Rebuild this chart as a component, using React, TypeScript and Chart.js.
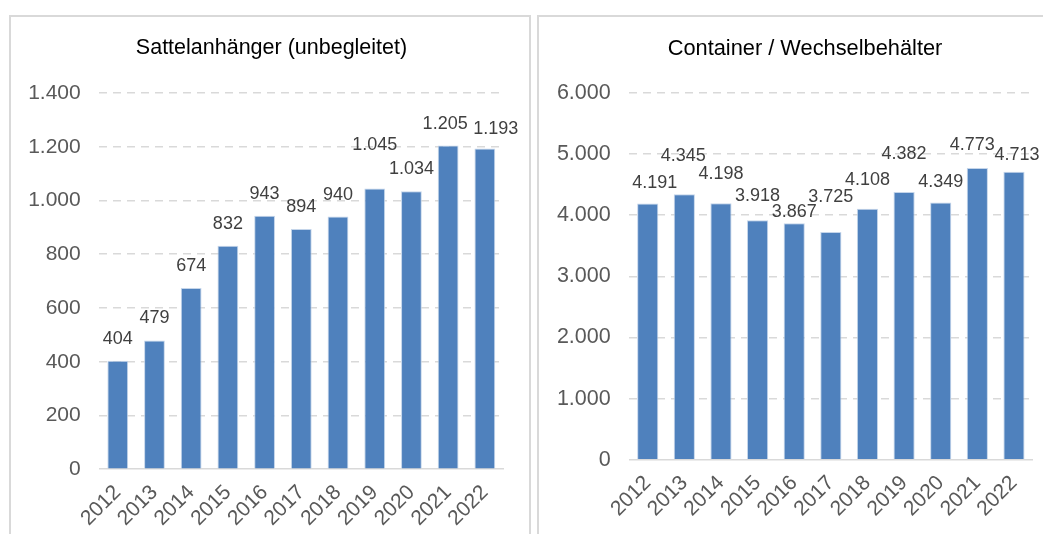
import React, { useEffect, useRef } from 'react';
import { Chart, registerables } from 'chart.js';

Chart.register(...registerables);

// ---- data ----
const years = ['2012', '2013', '2014', '2015', '2016', '2017', '2018', '2019', '2020', '2021', '2022'];

const trailerTitle = 'Sattelanhänger (unbegleitet)';
const trailerValues = [404, 479, 674, 832, 943, 894, 940, 1045, 1034, 1205, 1193];
const trailerTicks = [0, 200, 400, 600, 800, 1000, 1200, 1400];

const containerTitle = 'Container / Wechselbehälter';
// bar heights as drawn in the reference (the 2020 bar is drawn lower than its label)
const containerBarValues = [4191, 4345, 4198, 3918, 3867, 3725, 4108, 4382, 4207, 4773, 4713];
// values printed above the bars
const containerLabelValues = [4191, 4345, 4198, 3918, 3867, 3725, 4108, 4382, 4349, 4773, 4713];
const containerTicks = [0, 1000, 2000, 3000, 4000, 5000, 6000];

// ---- style ----
const FONT = "'Liberation Sans', Arial, Helvetica, sans-serif";
const BAR_COLOR = '#4F81BD';
const GRID_COLOR = '#D9D9D9';
const TICK_COLOR = '#595959';
const LABEL_COLOR = '#404040';

const fmt = (n: number) => String(n).replace(/\B(?=(\d{3})+(?!\d))/g, '.');

const barLabelPlugin = {
  id: 'barLabels',
  afterDatasetsDraw(chart: any, _args: any, opts: any) {
    const { ctx } = chart;
    const meta = chart.getDatasetMeta(0);
    ctx.save();
    ctx.font = `${opts.size}px ${FONT}`;
    ctx.fillStyle = opts.color;
    ctx.textAlign = 'center';
    ctx.textBaseline = 'middle';
    meta.data.forEach((bar: any, i: number) => {
      ctx.fillText(fmt(opts.values[i]), bar.x + (opts.dx[i] || 0), bar.y - (opts.dy[i] || 0));
    });
    ctx.restore();
  },
};

const chartTitlePlugin = {
  id: 'chartTitle',
  afterDraw(chart: any, _args: any, opts: any) {
    const { ctx } = chart;
    ctx.save();
    ctx.font = `${opts.size}px ${FONT}`;
    ctx.fillStyle = opts.color;
    ctx.textAlign = 'center';
    ctx.textBaseline = 'middle';
    ctx.fillText(opts.text, opts.x, opts.y);
    ctx.restore();
  },
};

type ChartSpec = {
  title: string;
  titleSize: number;
  titleX: number;
  barValues: number[];
  labelValues: number[];
  ticks: number[];
  tickSize: number;
  barPct: number;
  yWidth: number;
  yPad: number;
  xHeight: number;
  padRight: number;
  labelDy: number[];
  labelDx: number[];
  width: number;
  height: number;
  left: number;
  top: number;
};

function BarChart({ spec }: { spec: ChartSpec }) {
  const ref = useRef<HTMLCanvasElement | null>(null);
  useEffect(() => {
    if (!ref.current) return;
    const chart = new Chart(ref.current, {
      type: 'bar',
      data: {
        labels: years,
        datasets: [
          {
            data: spec.barValues,
            backgroundColor: BAR_COLOR,
            borderColor: 'rgba(190,208,232,0.9)',
            borderWidth: 1,
            categoryPercentage: 1,
            barPercentage: spec.barPct,
          },
        ],
      },
      options: {
        animation: false,
        responsive: false,
        maintainAspectRatio: false,
        devicePixelRatio: 1,
        layout: { padding: { left: 0, right: spec.padRight, top: 76, bottom: 0 } },
        plugins: {
          legend: { display: false },
          tooltip: { enabled: false },
          title: { display: false },
          chartTitle: {
            text: spec.title,
            size: spec.titleSize,
            color: '#000000',
            x: spec.titleX,
            y: 31.5,
          },
          barLabels: {
            values: spec.labelValues,
            dy: spec.labelDy,
            dx: spec.labelDx,
            size: 18,
            color: LABEL_COLOR,
          },
        } as any,
        scales: {
          x: {
            grid: { display: false, drawTicks: false },
            border: { display: true, color: GRID_COLOR, width: 1.5 },
            ticks: {
              color: TICK_COLOR,
              font: { family: FONT, size: 21 },
              minRotation: 45,
              maxRotation: 45,
              autoSkip: false,
              padding: 11,
            },
            afterFit: (s: any) => {
              s.height = spec.xHeight;
            },
          },
          y: {
            min: 0,
            max: spec.ticks[spec.ticks.length - 1],
            afterBuildTicks: (s: any) => {
              s.ticks = spec.ticks.map((v) => ({ value: v }));
            },
            grid: {
              drawTicks: false,
              color: (c: any) => (c.tick && c.tick.value === 0 ? 'rgba(0,0,0,0)' : GRID_COLOR),
              lineWidth: 1.5,
            },
            border: { display: false, dash: [8, 6] },
            ticks: {
              color: TICK_COLOR,
              font: { family: FONT, size: spec.tickSize },
              padding: spec.yPad,
              callback: (v: any) => fmt(Number(v)),
            },
            afterFit: (s: any) => {
              s.width = spec.yWidth;
            },
          },
        },
      },
      plugins: [barLabelPlugin as any, chartTitlePlugin as any],
    });
    return () => chart.destroy();
  }, [spec]);
  return (
    <canvas
      ref={ref}
      width={spec.width}
      height={spec.height}
      style={{ position: 'absolute', left: spec.left, top: spec.top, width: spec.width, height: spec.height }}
    />
  );
}

const leftSpec: ChartSpec = {
  title: trailerTitle,
  titleSize: 21.5,
  titleX: 260.5,
  barValues: trailerValues,
  labelValues: trailerValues,
  ticks: trailerTicks,
  tickSize: 21,
  barPct: 0.566,
  yWidth: 88.4,
  yPad: 18.7,
  xHeight: 64.8,
  padRight: 25.8,
  labelDy: [22, 22, 22, 22, 22, 22, 22, 43, 22.5, 21.5, 19.5],
  labelDx: [0, 0, 0, 0, 0, 0, 0, 0, 0, -3, 11],
  width: 518,
  height: 517,
  left: 11,
  top: 17,
};

const rightSpec: ChartSpec = {
  title: containerTitle,
  titleSize: 21.8,
  titleX: 266,
  barValues: containerBarValues,
  labelValues: containerLabelValues,
  ticks: containerTicks,
  tickSize: 21.5,
  barPct: 0.578,
  yWidth: 90.4,
  yPad: 18.7,
  xHeight: 74.3,
  padRight: 4.7,
  labelDy: [21, 38, 29, 24.5, 11, 35, 29, 37.5, 20.5, 22.5, 16.3],
  labelDx: [7, -1, 0, 0, 0, 0, 0, 0, 0, -5, 3],
  width: 504,
  height: 517,
  left: 539,
  top: 17,
};

export default function App() {
  return (
    <div
      style={{
        position: 'fixed',
        left: 0,
        top: 0,
        width: 1043,
        height: 534,
        overflow: 'hidden',
        background: '#ffffff',
      }}
    >
      <div
        style={{
          position: 'absolute',
          left: 9,
          top: 15,
          width: 522,
          height: 540,
          boxSizing: 'border-box',
          border: `2px solid ${GRID_COLOR}`,
        }}
      />
      <div
        style={{
          position: 'absolute',
          left: 537,
          top: 15,
          width: 540,
          height: 540,
          boxSizing: 'border-box',
          border: `2px solid ${GRID_COLOR}`,
        }}
      />
      <BarChart spec={leftSpec} />
      <BarChart spec={rightSpec} />
    </div>
  );
}
